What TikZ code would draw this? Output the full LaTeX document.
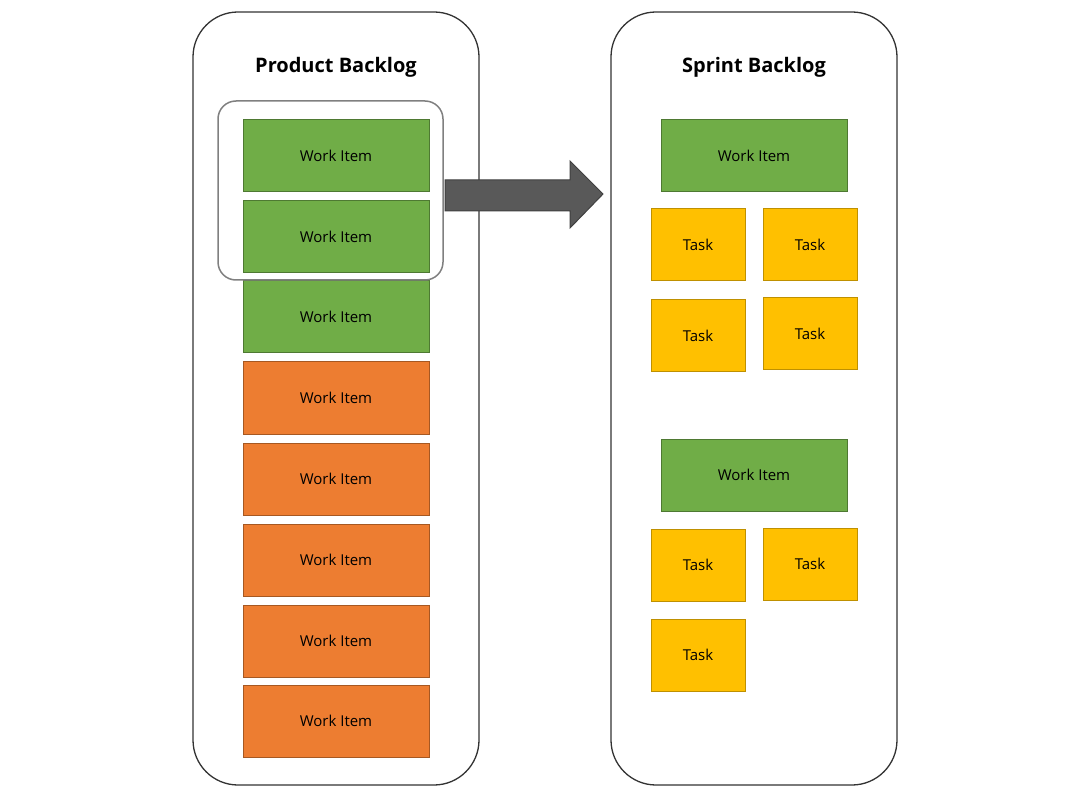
\documentclass[tikz,border=0pt]{standalone}
\usepackage{fontspec}
\setmainfont{Open Sans}
\begin{document}
\begin{tikzpicture}[x=1pt,y=-1pt,
 cont/.style={draw=black!80,line width=1.3pt,rounded corners=45pt},
 wi/.style={draw=#1!70!black,line width=1pt,minimum width=186pt,minimum height=72pt,inner sep=0pt,font=\fontsize{15}{18}\selectfont},
 green/.style={wi=grn,fill=grn},
 orange/.style={wi=org,fill=org},
 task/.style={draw=ylw!75!black,fill=ylw,line width=1pt,minimum width=94pt,minimum height=72pt,inner sep=0pt,font=\fontsize{15}{18}\selectfont},
 title/.style={font=\fontsize{20}{24}\selectfont\bfseries}]
\definecolor{grn}{HTML}{70AD47}
\definecolor{org}{HTML}{ED7D31}
\definecolor{ylw}{HTML}{FFC000}
\useasboundingbox (0,0) rectangle (1077,794);
\fill[white] (0,0) rectangle (1077,794);
\draw[cont] (193,12) rectangle (479,785);
\draw[cont] (611,12) rectangle (897,785);
\node[title] (pt) at (336,67) {Product Backlog};
\node[title] (st) at (754,67) {Sprint Backlog};
\node[green] (w1) at (336,156) {Work Item};
\node[green] (w2) at (336,237) {Work Item};
\node[green] (w3) at (336,317) {Work Item};
\node[orange] (w4) at (336,398) {Work Item};
\node[orange] (w5) at (336,479) {Work Item};
\node[orange] (w6) at (336,560) {Work Item};
\node[orange] (w7) at (336,641) {Work Item};
\node[orange] (w8) at (336,721) {Work Item};
\draw[black!50,line width=1.5pt,rounded corners=18pt] (218,101) rectangle (443,280);
\draw[fill=black!65,draw=black!75,line width=1pt] (445,180) -- (570,180) -- (570,161) -- (603,194) -- (570,228) -- (570,211) -- (445,211) -- cycle;
\node[green] (s1) at (754,156) {Work Item};
\node[task] (t1) at (698,245) {Task};
\node[task] (t2) at (810,245) {Task};
\node[task] (t3) at (698,336) {Task};
\node[task] (t4) at (810,334) {Task};
\node[green] (s2) at (754,475) {Work Item};
\node[task] (t5) at (698,565) {Task};
\node[task] (t6) at (810,564) {Task};
\node[task] (t7) at (698,655) {Task};
\end{tikzpicture}
\end{document}
